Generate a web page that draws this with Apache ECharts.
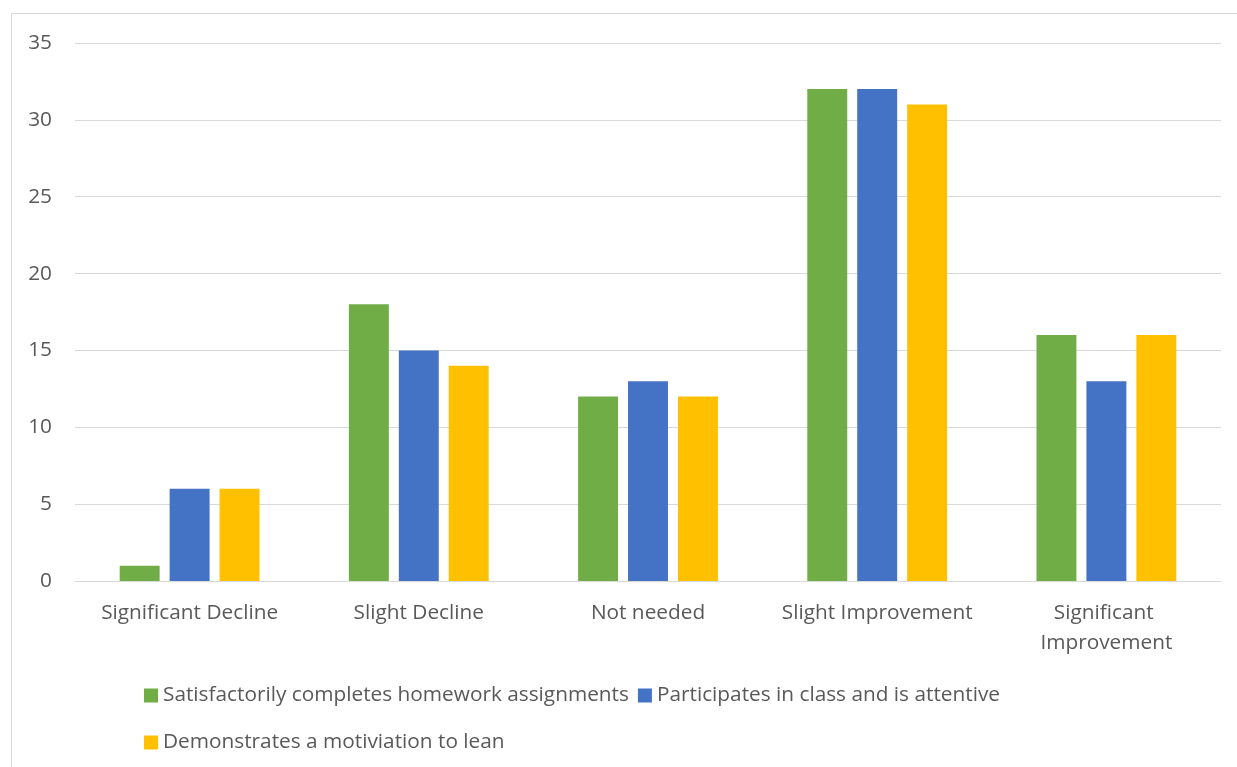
<!DOCTYPE html>
<html>
<head>
<meta charset="utf-8">
<script src="https://cdn.jsdelivr.net/npm/echarts@6/dist/echarts.min.js"></script>
<style>
  html, body { margin: 0; padding: 0; background: #fff; }
  #frame { position: absolute; left: 11px; top: 13px; width: 1400px; height: 900px; border: 1px solid #d9d9d9; box-sizing: border-box; }
  #chart { position: absolute; left: 0; top: 0; width: 1237px; height: 767px; }
</style>
</head>
<body>
<div id="frame"></div>
<div id="chart"></div>
<script>
const categories = ['Significant Decline', 'Slight Decline', 'Not needed', 'Slight Improvement', 'Significant Improvement'];
const seriesNames = [
  'Satisfactorily completes homework assignments',
  'Participates in class and is attentive',
  'Demonstrates a motiviation to lean'
];
const homework = [1, 18, 12, 32, 16];
const participates = [6, 15, 13, 32, 13];
const motivation = [6, 14, 12, 31, 16];
const yTicks = { min: 0, max: 35, interval: 5 };

const colors = ['#70AD47', '#4472C4', '#FFC000'];
const font = '"Open Sans", sans-serif';
const textColor = '#595959';

const chart = echarts.init(document.getElementById('chart'), null, { renderer: 'canvas' });
const legendText = { fontFamily: font, fontSize: 20.8, color: textColor };

chart.setOption({
  backgroundColor: 'transparent',
  animation: false,
  color: colors,
  grid: { left: 75, right: 16, top: 43, bottom: 186, containLabel: false },
  legend: [
    {
      data: seriesNames.slice(0, 2), left: 139, top: 680,
      icon: 'rect', itemWidth: 14, itemHeight: 14, itemGap: 9,
      textStyle: legendText
    },
    {
      data: seriesNames.slice(2), left: 139, top: 727,
      icon: 'rect', itemWidth: 14, itemHeight: 14, itemGap: 9,
      textStyle: legendText
    }
  ],
  xAxis: {
    type: 'category',
    data: categories,
    axisLine: { lineStyle: { color: '#d9d9d9', width: 1 } },
    axisTick: { show: false },
    axisLabel: {
      interval: 0, margin: 17, color: textColor, fontFamily: font, fontSize: 20.8,
      width: 210, overflow: 'break', lineHeight: 30
    }
  },
  yAxis: {
    type: 'value',
    min: yTicks.min, max: yTicks.max, interval: yTicks.interval,
    axisLine: { show: false },
    axisTick: { show: false },
    splitLine: { lineStyle: { color: '#d9d9d9', width: 1 } },
    axisLabel: { margin: 23, color: textColor, fontFamily: font, fontSize: 20.8 }
  },
  series: [
    { name: seriesNames[0], type: 'bar', data: homework, barGap: '25%', barCategoryGap: '39%' },
    { name: seriesNames[1], type: 'bar', data: participates, barGap: '25%', barCategoryGap: '39%' },
    { name: seriesNames[2], type: 'bar', data: motivation, barGap: '25%', barCategoryGap: '39%' }
  ]
});
</script>
</body>
</html>
